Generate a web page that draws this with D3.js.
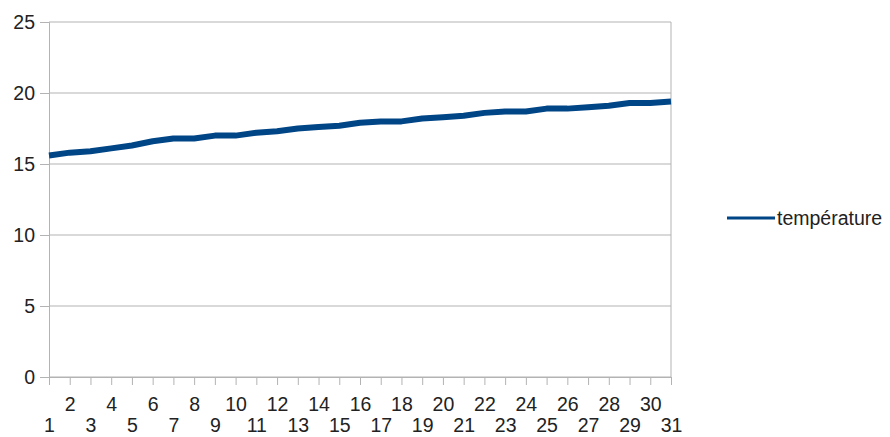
<!DOCTYPE html>
<html>
<head>
<meta charset="UTF-8">
<title>température</title>
<script src="https://cdn.jsdelivr.net/npm/d3@7/dist/d3.min.js"></script>
<style>
  body { margin: 0; background: #fff; }
  svg text { font-family: "Liberation Sans", Arial, sans-serif; fill: #222; }
</style>
</head>
<body>
<div id="chart"></div>
<script>
// daily values
const days = d3.range(1, 32);
const temperature = [15.6, 15.8, 15.9, 16.1, 16.3, 16.6, 16.8, 16.8, 17.0, 17.0,
                     17.2, 17.3, 17.5, 17.6, 17.7, 17.9, 18.0, 18.0, 18.2, 18.3,
                     18.4, 18.6, 18.7, 18.7, 18.9, 18.9, 19.0, 19.1, 19.3, 19.3, 19.4];
const yTicks = [0, 5, 10, 15, 20, 25];
const seriesName = "température";

const W = 890, H = 437;
const margin = { top: 22, right: 219, bottom: 60, left: 49 };
const width = W - margin.left - margin.right;
const height = H - margin.top - margin.bottom;
const fontSize = "19.5px";

const svg = d3.select("#chart").append("svg")
    .attr("width", W)
    .attr("height", H);

const g = svg.append("g")
    .attr("transform", `translate(${margin.left},${margin.top})`);

const x = d3.scalePoint().domain(days).range([0, width]);
const y = d3.scaleLinear().domain([0, 25]).range([height, 0]);

// gridlines
g.append("g")
    .selectAll("line")
    .data(yTicks)
    .join("line")
    .attr("x1", 0)
    .attr("x2", width)
    .attr("y1", d => y(d))
    .attr("y2", d => y(d))
    .attr("stroke", "#b3b3b3")
    .attr("stroke-width", 1);

// right wall border
g.append("line")
    .attr("x1", width).attr("x2", width)
    .attr("y1", 0).attr("y2", height)
    .attr("stroke", "#b3b3b3");

// y axis
const yAxis = g.append("g")
    .call(d3.axisLeft(y).tickValues(yTicks).tickSize(9).tickPadding(5));
yAxis.select(".domain").attr("stroke", "#b3b3b3");
yAxis.selectAll(".tick line").attr("stroke", "#b3b3b3");
yAxis.selectAll(".tick text").style("font-size", fontSize).attr("fill", "#222");

// x axis, labels alternate on two rows
const xAxis = g.append("g")
    .attr("transform", `translate(0,${height})`)
    .call(d3.axisBottom(x).tickSize(8).tickSizeOuter(0));
xAxis.select(".domain").attr("stroke", "#b3b3b3");
xAxis.selectAll(".tick line").attr("stroke", "#b3b3b3");
xAxis.selectAll(".tick text")
    .style("font-size", fontSize)
    .attr("fill", "#222")
    .attr("dy", 0)
    .attr("y", d => d % 2 === 0 ? 34 : 55);

// line
const line = d3.line()
    .x((d, i) => x(days[i]))
    .y(d => y(d));

g.append("path")
    .datum(temperature)
    .attr("fill", "none")
    .attr("stroke", "#004586")
    .attr("stroke-width", 6)
    .attr("stroke-linejoin", "round")
    .attr("d", line);

// legend
const legend = svg.append("g").attr("transform", "translate(727,218)");
legend.append("line")
    .attr("x1", 0).attr("x2", 48)
    .attr("stroke", "#004586")
    .attr("stroke-width", 3);
legend.append("text")
    .attr("x", 50)
    .attr("y", 7)
    .style("font-size", fontSize)
    .text(seriesName);
</script>
</body>
</html>
